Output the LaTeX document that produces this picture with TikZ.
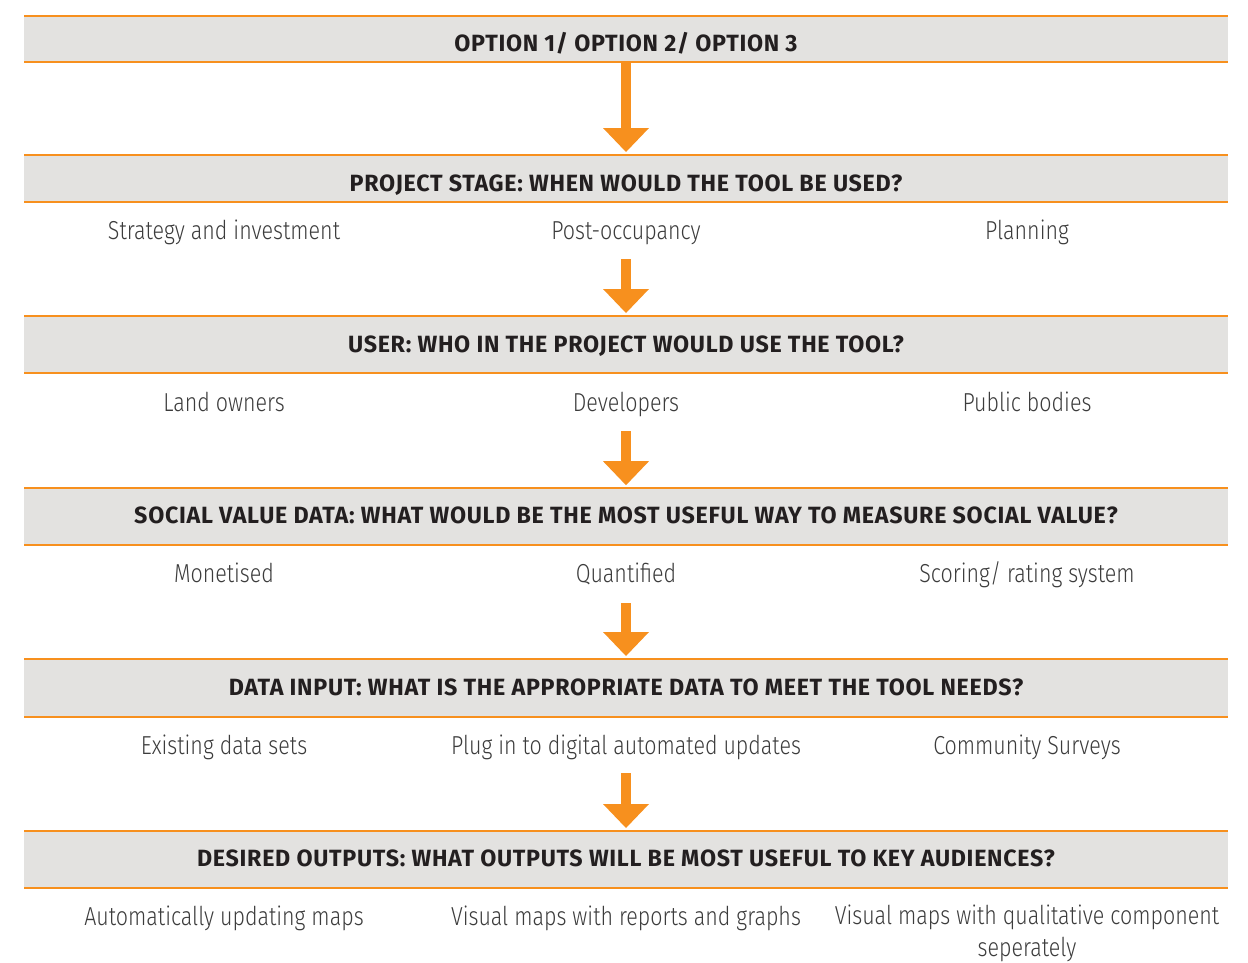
\documentclass[tikz,border=0pt]{standalone}
\usepackage{fontspec}
\setmainfont{Fira Sans}
\newfontfamily\headf[FakeStretch=0.99,LetterSpace=3]{Fira Sans}
\newfontfamily\bodyf[FakeStretch=0.825]{Fira Sans Light}
\usetikzlibrary{arrows.meta}
\definecolor{orng}{HTML}{F7901E}
\definecolor{barg}{HTML}{E3E2E0}
\definecolor{htext}{HTML}{231F20}
\definecolor{btext}{HTML}{3C3C3C}
\begin{document}
\begin{tikzpicture}[x=1pt,y=-1pt,
  bar/.style={fill=barg,draw=none,minimum width=1204pt,inner sep=0pt,outer sep=0pt},
  edge/.style={draw=orng,line width=2.5pt},
  head/.style={font=\headf\bfseries\fontsize{23.5}{26}\selectfont,text=htext,inner sep=0pt,anchor=base},
  item/.style={font=\bodyf\fontsize{26}{32}\selectfont,text=btext,inner sep=0pt,anchor=base,align=center},
  flow/.style={draw=orng,line width=10pt,-{Triangle[width=46pt,length=24pt,line width=0pt]}}]
\useasboundingbox (0,0) rectangle (1248,962);
% bars
\node[bar,minimum height=46pt] (b1) at (626,39) {};
\node[bar,minimum height=47pt] (b2) at (626,178.5) {};
\node[bar,minimum height=57pt] (b3) at (626,344.5) {};
\node[bar,minimum height=57pt] (b4) at (626,516.7) {};
\node[bar,minimum height=58pt] (b5) at (626,688) {};
\node[bar,minimum height=57pt] (b6) at (626,859.5) {};
\foreach \b in {b1,b2,b3,b4,b5,b6}{
  \draw[edge] (\b.north west) -- (\b.north east);
  \draw[edge] (\b.south west) -- (\b.south east);
}
% headings
\node[head] (h1) at (626,51) {OPTION 1/ OPTION 2/ OPTION 3};
\node[head] (h2) at (626,191) {PROJECT STAGE: WHEN WOULD THE TOOL BE USED?};
\node[head] (h3) at (626,352) {USER: WHO IN THE PROJECT WOULD USE THE TOOL?};
\node[head] (h4) at (626,523.5) {SOCIAL VALUE DATA: WHAT WOULD BE THE MOST USEFUL WAY TO MEASURE SOCIAL VALUE?};
\node[head] (h5) at (626,695) {DATA INPUT: WHAT IS THE APPROPRIATE DATA TO MEET THE TOOL NEEDS?};
\node[head] (h6) at (626,866.5) {DESIRED OUTPUTS: WHAT OUTPUTS WILL BE MOST USEFUL TO KEY AUDIENCES?};
% items
\node[item] (s1) at (224,239) {Strategy and investment};
\node[item] (s2) at (626,239) {Post-occupancy};
\node[item] (s3) at (1027,239) {Planning};
\node[item] (u1) at (224,411) {Land owners};
\node[item] (u2) at (626,411) {Developers};
\node[item] (u3) at (1027,411) {Public bodies};
\node[item] (d1) at (224,582) {Monetised};
\node[item] (d2) at (626,582) {Quantified};
\node[item] (d3) at (1027,582) {Scoring/ rating system};
\node[item] (i1) at (224,754) {Existing data sets};
\node[item] (i2) at (626,754) {Plug in to digital automated updates};
\node[item] (i3) at (1027,754) {Community Surveys};
\node[item] (o1) at (224,925) {Automatically updating maps};
\node[item] (o2) at (626,925) {Visual maps with reports and graphs};
\node[item] (o3) at (1027,956) {Visual maps with qualitative component\\seperately};
% arrows
\coordinate (a2) at (626,259);
\coordinate (a3) at (626,431);
\coordinate (a4) at (626,603);
\coordinate (a5) at (626,773);
\draw[flow] (b1.south) -- ([yshift=3pt]b2.north);
\draw[flow] (a2) -- ([yshift=3pt]b3.north);
\draw[flow] (a3) -- ([yshift=3pt]b4.north);
\draw[flow] (a4) -- ([yshift=3pt]b5.north);
\draw[flow] (a5) -- ([yshift=3pt]b6.north);
\end{tikzpicture}
\end{document}
